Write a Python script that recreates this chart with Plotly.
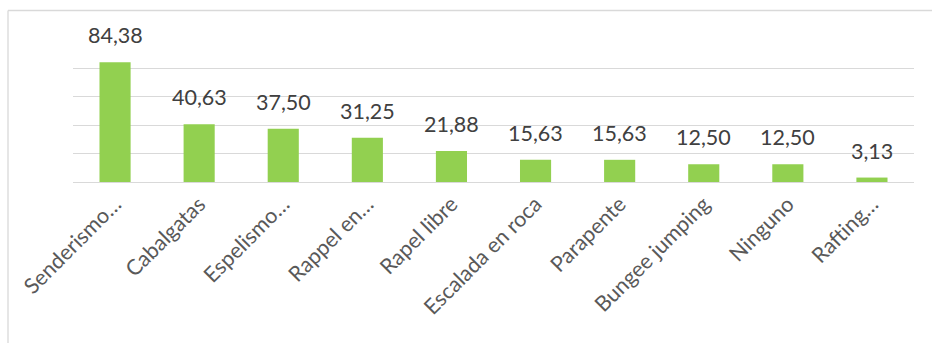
import plotly.graph_objects as go

categories = ["Senderismo…", "Cabalgatas", "Espelismo…", "Rappel en…", "Rapel libre",
              "Escalada en roca", "Parapente", "Bungee jumping", "Ninguno", "Rafting…"]
values = [84.38, 40.63, 37.50, 31.25, 21.88, 15.63, 15.63, 12.50, 12.50, 3.13]
value_labels = ["84,38", "40,63", "37,50", "31,25", "21,88", "15,63", "15,63", "12,50", "12,50", "3,13"]

W, H = 932, 343
ml, mr, mt, mb = 73, 18, 40, 161
pw = W - ml - mr
ph = H - mt - mb

fig = go.Figure()
fig.add_trace(go.Bar(x=categories, y=values, marker=dict(color="#92D050", line=dict(width=0)),
                     hoverinfo="skip"))

for c, v, t in zip(categories, values, value_labels):
    fig.add_annotation(x=c, y=v, text=t, showarrow=False, yanchor="bottom", yshift=12,
                       font=dict(family="Lato", size=21.5, color="#404040"))

def px_x(p):
    return (p - ml) / pw

def px_y(p):
    return (H - mb - p) / ph

fig.add_shape(type="line", xref="paper", yref="paper", x0=px_x(8), x1=px_x(940),
              y0=px_y(10.5), y1=px_y(10.5), line=dict(color="#D9D9D9", width=1.3))
fig.add_shape(type="line", xref="paper", yref="paper", x0=px_x(8), x1=px_x(8),
              y0=px_y(10.5), y1=px_y(350), line=dict(color="#D9D9D9", width=1.3))

fig.update_layout(
    width=W, height=H,
    margin=dict(l=ml, r=mr, t=mt, b=mb),
    paper_bgcolor="white", plot_bgcolor="white",
    bargap=0.63, showlegend=False,
    font=dict(family="Lato", color="#595959"),
    xaxis=dict(tickangle=-45, tickfont=dict(size=21.5, color="#595959", family="Lato"),
               showline=True, linecolor="#D9D9D9", linewidth=1.3, ticks="", showgrid=False),
    yaxis=dict(range=[0, 100], dtick=20, showticklabels=False, showgrid=True,
               gridcolor="#D9D9D9", gridwidth=1.1, zeroline=False, showline=False),
)

fig.write_html("out.html")
